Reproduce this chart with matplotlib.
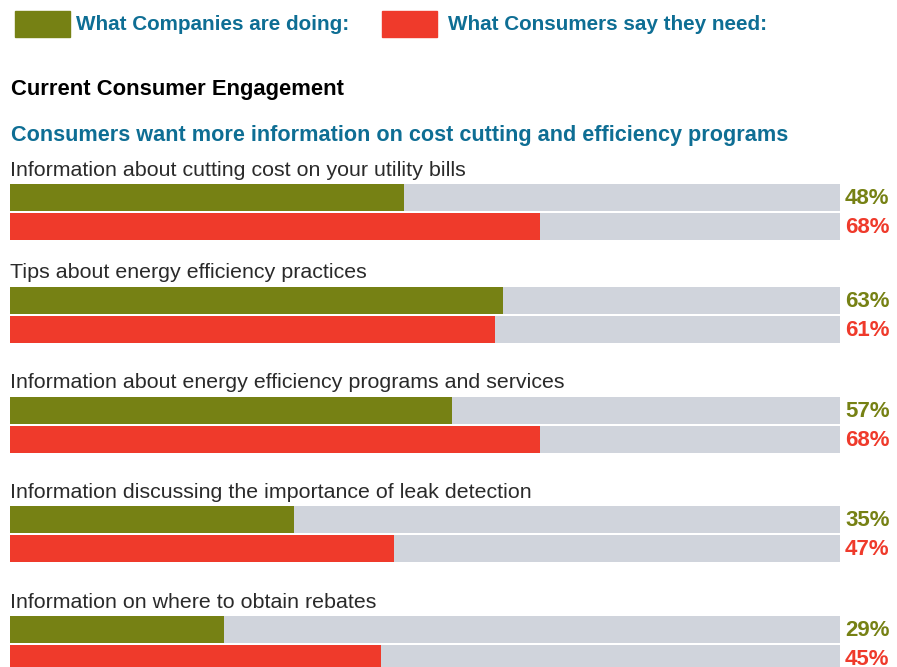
import matplotlib
matplotlib.use('Agg')
import matplotlib.pyplot as plt
import matplotlib.patches as mpatches

plt.rcParams['font.family'] = ['Liberation Sans', 'DejaVu Sans']

categorias = [
    'Information about cutting cost on your utility bills',
    'Tips about energy efficiency practices',
    'Information about energy efficiency programs and services',
    'Information discussing the importance of leak detection',
    'Information on where to obtain rebates',
]
# rótulos impressos
empresas     = [48, 63, 57, 35, 29]
consumidores = [68, 61, 68, 47, 45]
# comprimento das barras (% da trilha)
empresas_barra     = [47.5, 59.4, 53.3, 34.2, 25.8]
consumidores_barra = [63.9, 58.4, 63.9, 46.3, 44.7]

COR_OLIVA  = '#768114'
COR_VERM   = '#EF3A2B'
COR_TRILHA = '#D0D4DC'
COR_AZUL   = '#0E6E94'

W, H = 897, 667
fig = plt.figure(figsize=(W / 100, H / 100), dpi=100)

# eixo em pixels no y, porcentagem no x (trilha de 10px a 840px)
ax = fig.add_axes([10 / W, 0, 830 / W, 1])
ax.set_xlim(0, 100)
ax.set_ylim(H, 0)
ax.axis('off')

topos = [184, 287, 397, 506, 616]
altura = 27
passo = 29

for i, cat in enumerate(categorias):
    y0 = topos[i]
    y1 = y0 + passo
    ax.barh(y0, 100, height=altura, align='edge', color=COR_TRILHA, linewidth=0)
    ax.barh(y1, 100, height=altura, align='edge', color=COR_TRILHA, linewidth=0)
    ax.barh(y0, empresas_barra[i], height=altura, align='edge', color=COR_OLIVA, linewidth=0)
    ax.barh(y1, consumidores_barra[i], height=altura, align='edge', color=COR_VERM, linewidth=0)
    ax.text(0, y0 - 14, cat, ha='left', va='center', fontsize=15.4, color='#2a2a2a')
    ax.text(100.6, y0 + altura / 2 + 1, f'{empresas[i]}%', ha='left', va='center',
            fontsize=16, fontweight='bold', color=COR_OLIVA, clip_on=False)
    ax.text(100.6, y1 + altura / 2 + 1, f'{consumidores[i]}%', ha='left', va='center',
            fontsize=16, fontweight='bold', color=COR_VERM, clip_on=False)

# legenda no topo
fig.patches.append(mpatches.Rectangle((15 / W, 1 - 37 / H), 55 / W, 26 / H,
                                      transform=fig.transFigure, color=COR_OLIVA))
fig.patches.append(mpatches.Rectangle((382 / W, 1 - 37 / H), 55 / W, 26 / H,
                                      transform=fig.transFigure, color=COR_VERM))
fig.text(76 / W, 1 - 24 / H, 'What Companies are doing:', ha='left', va='center',
         fontsize=14.9, fontweight='bold', color=COR_AZUL)
fig.text(448 / W, 1 - 24 / H, 'What Consumers say they need:', ha='left', va='center',
         fontsize=14.9, fontweight='bold', color=COR_AZUL)

fig.text(11 / W, 1 - 89 / H, 'Current Consumer Engagement', ha='left', va='center',
         fontsize=15.8, fontweight='bold', color='black')
fig.text(11 / W, 1 - 136 / H,
         'Consumers want more information on cost cutting and efficiency programs',
         ha='left', va='center', fontsize=15.6, fontweight='bold', color=COR_AZUL)

plt.savefig('out.png', dpi=100)
plt.close()
